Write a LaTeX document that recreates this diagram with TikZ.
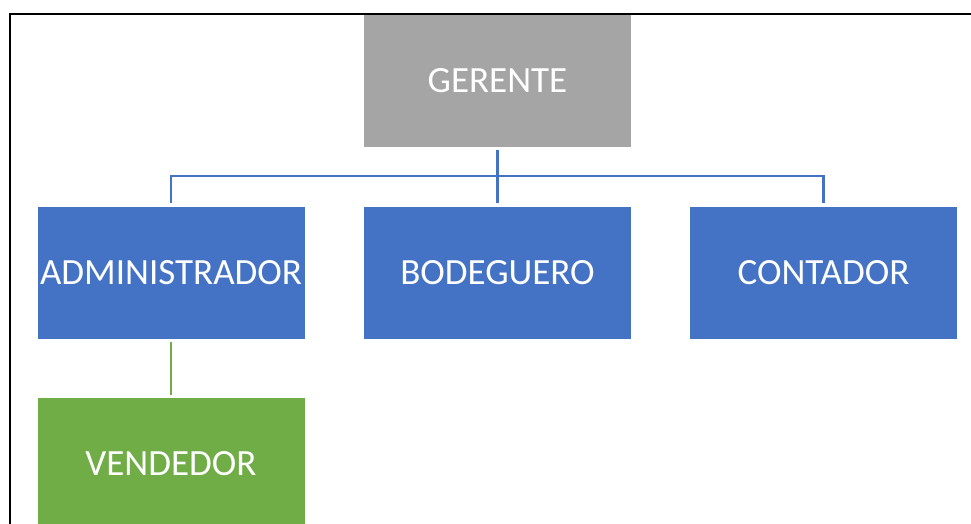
\documentclass[tikz,border=0pt]{standalone}
\usepackage{fontspec}
\setmainfont{Carlito}
\definecolor{boxgray}{HTML}{A5A5A5}
\definecolor{boxblue}{HTML}{4472C4}
\definecolor{boxgreen}{HTML}{70AD47}
\tikzset{
  orgbox/.style={minimum width=267pt, minimum height=132pt, inner sep=0pt,
    text=white, font=\fontsize{37}{41}\selectfont},
  conn/.style={line width=2.2pt, shorten <=3pt, shorten >=3pt}
}
\begin{document}
\begin{tikzpicture}[x=1pt,y=-1pt]
    % Define page size and column positions
    \def\colA{171}
    \def\colB{497.5}
    \def\colC{823.5}
    \useasboundingbox (0,0) rectangle (971,524);
    \clip (0,0) rectangle (971,524);

    % Frame
    \draw[line width=2pt] (10,540) -- (10,14) -- (980,14);

    % Draw boxes
    \node[orgbox, fill=boxgray] (ger) at (\colB,81) {GERENTE};
    \node[orgbox, fill=boxblue] (adm) at (\colA,272.5) {ADMINISTRADOR};
    \node[orgbox, fill=boxblue] (bod) at (\colB,272.5) {BODEGUERO};
    \node[orgbox, fill=boxblue] (con) at (\colC,272.5) {CONTADOR};
    \node[orgbox, fill=boxgreen] (ven) at (\colA,464) {VENDEDOR};

    % Connectors
    \draw[conn, boxblue] (ger.south) -- (bod.north);
    \draw[conn, boxblue] (adm.north) -- ++(0,-30) -| (con.north);
    \draw[conn, boxgreen] (adm.south) -- (ven.north);
\end{tikzpicture}
\end{document}
